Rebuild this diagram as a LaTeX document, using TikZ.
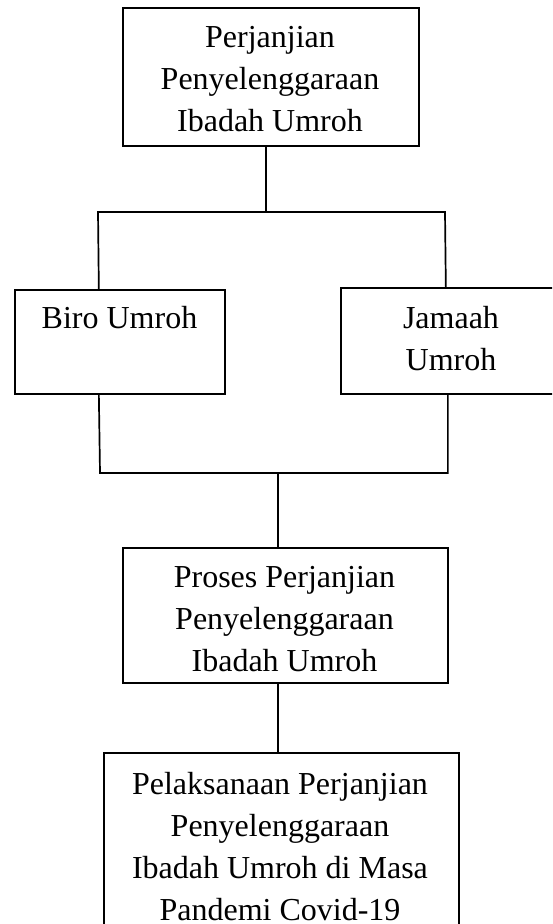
\documentclass[tikz,border=0pt]{standalone}
\usepackage{fontspec}
\setmainfont{Liberation Serif}
\begin{document}
\begin{tikzpicture}[x=1pt,y=-1pt,
  box/.style={draw,line width=1.7pt,inner sep=0pt,anchor=north west},
  lbl/.style={inner sep=0pt,anchor=base,align=center,font=\fontsize{32}{42}\selectfont},
  conn/.style={line width=1.7pt}]
\useasboundingbox (0,0) rectangle (552,924);
\clip (0,0) rectangle (552,924);
% boxes
\node[box,minimum width=296pt,minimum height=138pt] (top) at (122,7) {};
\node[box,minimum width=210pt,minimum height=104pt] (biro) at (14,289) {};
\node[box,minimum width=222pt,minimum height=106pt] (jamaah) at (340,287) {};
\node[box,minimum width=325pt,minimum height=135pt] (proses) at (122,547) {};
\node[box,minimum width=355pt,minimum height=200pt] (pelak) at (103,752) {};
% labels (anchor base = baseline of the last line)
\node[lbl] (topT) at (270,131) {Perjanjian\\Penyelenggaraan\\Ibadah Umroh};
\node[lbl] (biroT) at (119.5,328) {Biro Umroh};
\node[lbl] (jamaahT) at (451,370) {Jamaah\\Umroh};
\node[lbl] (prosesT) at (284.5,671) {Proses Perjanjian\\Penyelenggaraan\\Ibadah Umroh};
\node[lbl] (pelakT) at (280,920) {Pelaksanaan Perjanjian\\Penyelenggaraan\\Ibadah Umroh di Masa\\Pandemi Covid-19};
% connectors
\coordinate (busL) at (98,212);
\coordinate (busR) at (445,212);
\coordinate (busB) at (100,473);
\draw[conn] ([xshift=-5pt]top.south) -- ([xshift=-5pt]top.south |- busL);
\draw[conn] ([xshift=-21pt]biro.north) -- (busL) -- (busR) -- ([xshift=-6pt]jamaah.north);
\draw[line width=2.8pt] (308,212) -- (341,212);
\draw[conn] ([xshift=-21pt]biro.south) -- (busB) -| ([xshift=-4pt]jamaah.south);
\draw[conn] ([xshift=-7.5pt]proses.north) -- ([xshift=-7.5pt]proses.north |- busB);
\draw[conn] ([xshift=-7.5pt]proses.south) -- ([xshift=-7.5pt]proses.south |- pelak.north);
\end{tikzpicture}
\end{document}
